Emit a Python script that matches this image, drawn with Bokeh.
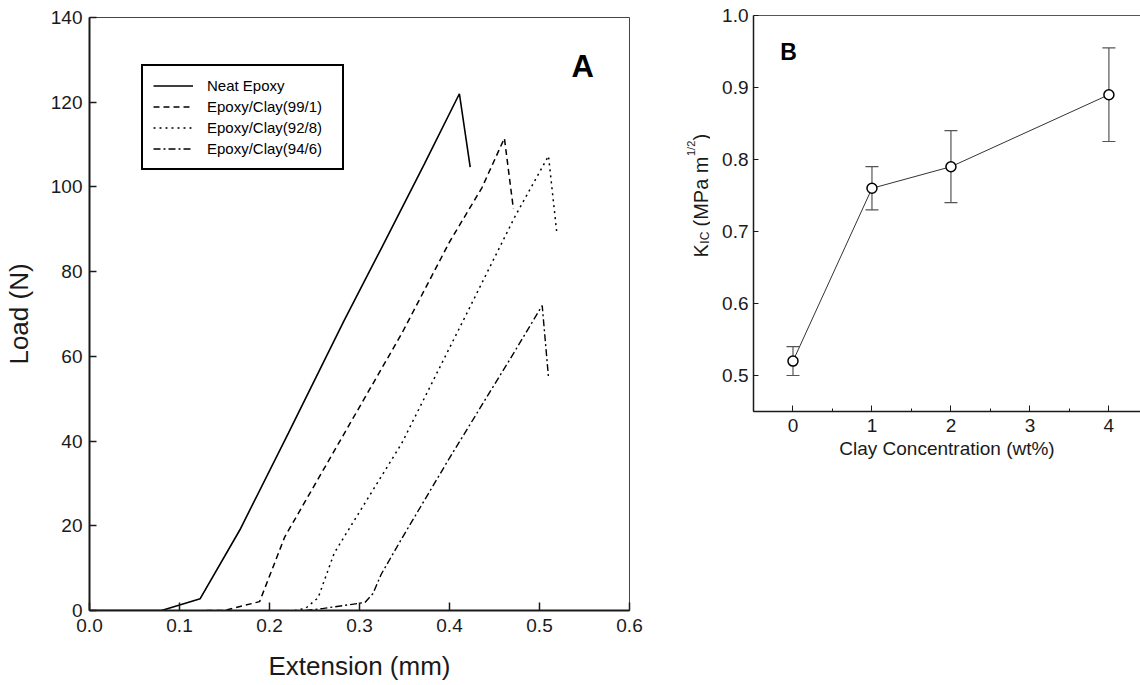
import math
from bokeh.plotting import figure
from bokeh.models import (Range1d, Legend, LegendItem, Label, ColumnDataSource,
                          Whisker, TeeHead, FixedTicker, PrintfTickFormatter, LinearAxis)
from bokeh.layouts import row
from bokeh.embed import file_html
from bokeh.resources import INLINE
from bokeh.core.properties import value

# ---------------- Panel A data: Load (N) vs Extension (mm) ----------------
neat_x = [0.0, 0.08, 0.123, 0.167, 0.221, 0.283, 0.324, 0.372, 0.411, 0.423]
neat_y = [0.0, 0.0, 2.8, 19.0, 41.9, 68.5, 85.4, 105.4, 122.0, 104.7]

c991_x = [0.13, 0.15, 0.189, 0.217, 0.347, 0.40, 0.436, 0.461, 0.471]
c991_y = [0.0, 0.0, 2.1, 17.4, 65.4, 87.0, 99.8, 111.5, 94.8]

c928_x = [0.228, 0.24, 0.254, 0.272, 0.347, 0.417, 0.472, 0.51, 0.519]
c928_y = [0.0, 0.5, 3.0, 13.6, 39.5, 69.2, 92.7, 107.3, 89.6]

c946_x = [0.24, 0.26, 0.306, 0.315, 0.324, 0.347, 0.40, 0.472, 0.503, 0.51]
c946_y = [0.0, 0.5, 1.9, 4.0, 8.5, 17.0, 36.0, 61.0, 72.0, 55.0]

series_labels = ["Neat Epoxy", "Epoxy/Clay(99/1)", "Epoxy/Clay(92/8)", "Epoxy/Clay(94/6)"]
x_ticks_a = [0.0, 0.1, 0.2, 0.3, 0.4, 0.5, 0.6]
y_ticks_a = [0, 20, 40, 60, 80, 100, 120, 140]

# ---------------- Panel B data: K_IC vs clay concentration ----------------
conc = [0, 1, 2, 4]
kic = [0.52, 0.76, 0.79, 0.89]
kic_low = [0.50, 0.73, 0.74, 0.825]
kic_high = [0.54, 0.79, 0.84, 0.955]
x_ticks_b = [0, 1, 2, 3, 4]
x_minor_b = [-0.5, 0.5, 1.5, 2.5, 3.5]
y_ticks_b = [0.5, 0.6, 0.7, 0.8, 0.9, 1.0]
ylabel_b_parts = ["K", "IC", "(MPa m", "1/2", ")"]

FONT = "Liberation Sans"
INK = "#1a1a1a"
H = 685


def style_axes(p, tick_font, label_font):
    for ax in p.xaxis + p.yaxis:
        ax.major_label_text_font = FONT
        ax.major_label_text_font_size = tick_font
        ax.major_label_text_color = INK
        ax.axis_label_text_font = FONT
        ax.axis_label_text_font_size = label_font
        ax.axis_label_text_font_style = "normal"
        ax.axis_label_text_color = INK
        ax.axis_line_color = INK
        ax.major_tick_line_color = INK
        ax.minor_tick_line_color = INK
        ax.major_tick_out = 0
        ax.minor_tick_out = 0
    p.grid.visible = False


# ================= Panel A =================
pA = figure(width=660, height=H, x_range=Range1d(0, 0.6), y_range=Range1d(0, 140),
            output_backend="svg", toolbar_location=None,
            min_border_left=88, min_border_right=31, min_border_top=17, min_border_bottom=75)
pA.frame_align = False
pA.outline_line_color = "#444444"
pA.outline_line_width = 1

r1 = pA.line(neat_x, neat_y, line_color="black", line_width=1.6)
r2 = pA.line(c991_x, c991_y, line_color="black", line_width=1.5, line_dash="6 4")
r3 = pA.line(c928_x, c928_y, line_color="black", line_width=1.5, line_dash="2 4")
r4 = pA.line(c946_x, c946_y, line_color="black", line_width=1.4, line_dash="7 3 2 3")

style_axes(pA, "19px", "26px")
pA.xaxis.ticker = FixedTicker(ticks=x_ticks_a, minor_ticks=[])
pA.yaxis.ticker = FixedTicker(ticks=y_ticks_a, minor_ticks=[])
pA.xaxis.formatter = PrintfTickFormatter(format="%.1f")
pA.xaxis.axis_label = "Extension (mm)"
pA.yaxis.axis_label = "Load (N)"
pA.xaxis.major_tick_in = 8
pA.yaxis.major_tick_in = 7
pA.xaxis.axis_line_width = 2
pA.yaxis.axis_line_width = 2
pA.xaxis.major_tick_line_width = 1.5
pA.yaxis.major_tick_line_width = 1.5
pA.xaxis.major_label_standoff = 8
pA.yaxis.major_label_standoff = 7
pA.xaxis.axis_label_standoff = 16
pA.yaxis.axis_label_standoff = 14

legend = Legend(items=[LegendItem(label=series_labels[0], renderers=[r1]),
                       LegendItem(label=series_labels[1], renderers=[r2]),
                       LegendItem(label=series_labels[2], renderers=[r3]),
                       LegendItem(label=series_labels[3], renderers=[r4])],
                location=(52, 440), orientation="vertical",
                border_line_color="black", border_line_width=2, border_line_alpha=1.0,
                background_fill_color="white", background_fill_alpha=1,
                label_text_font=FONT, label_text_font_size="15px", label_text_color="black",
                glyph_width=40, glyph_height=19, label_height=19, label_width=125,
                spacing=2, padding=10, margin=0, label_standoff=14)
pA.add_layout(legend)

pA.add_layout(Label(x=0.548, y=128.4, text="A", text_font=FONT, text_font_size="31px",
                    text_font_style="bold", text_align="center", text_baseline="middle",
                    text_color="black"))

# ============ strip holding the rotated y-axis title of panel B ============
pL = figure(width=50, height=H, x_range=Range1d(660, 710), y_range=Range1d(0, H),
            output_backend="svg", toolbar_location=None, x_axis_type=None, y_axis_type=None,
            min_border_left=0, min_border_right=0, min_border_top=0, min_border_bottom=0)
pL.frame_align = False
pL.outline_line_color = None
pL.grid.visible = False
lab_src = ColumnDataSource(dict(
    x=[700, 704, 700, 690, 700],
    y=[H - 257.0, H - 243.2, H - 226.0, H - 155.5, H - 140.0],
    text=ylabel_b_parts,
    size=["20px", "12px", "20px", "11px", "20px"]))
pL.text(x="x", y="y", text="text", source=lab_src, angle=math.pi / 2,
        text_font=value(FONT), text_font_size="size", text_align="left",
        text_baseline="alphabetic", text_color=INK)

# ================= Panel B =================
pB = figure(width=430, height=H, x_range=Range1d(-0.5, 4.4), y_range=Range1d(0.45, 1.0),
            output_backend="svg", toolbar_location=None,
            min_border_left=43, min_border_right=0, min_border_top=15, min_border_bottom=274)
pB.frame_align = False
pB.outline_line_color = None

src = ColumnDataSource(dict(conc=conc, kic=kic, low=kic_low, high=kic_high))
pB.add_layout(Whisker(source=src, base="conc", upper="high", lower="low",
                      line_color="#555555", line_width=1.2,
                      upper_head=TeeHead(size=13, line_color="#555555", line_width=1.2),
                      lower_head=TeeHead(size=13, line_color="#555555", line_width=1.2)))
pB.line("conc", "kic", source=src, line_color="#333333", line_width=1)
pB.scatter("conc", "kic", source=src, marker="circle", size=10, fill_color="white",
           line_color="black", line_width=1.5)

style_axes(pB, "19px", "19px")
pB.xaxis.ticker = FixedTicker(ticks=x_ticks_b, minor_ticks=x_minor_b)
pB.yaxis.ticker = FixedTicker(ticks=y_ticks_b, minor_ticks=[])
pB.yaxis.formatter = PrintfTickFormatter(format="%.1f")
pB.xaxis.axis_label = "Clay Concentration (wt%)"
pB.xaxis.major_tick_in = 6
pB.xaxis.minor_tick_in = 3
pB.yaxis.major_tick_in = 5
pB.yaxis.minor_tick_in = 0
pB.xaxis.axis_line_width = 1.5
pB.yaxis.axis_line_width = 1.5
pB.xaxis.major_label_standoff = 7
pB.yaxis.major_label_standoff = 5
pB.xaxis.axis_label_standoff = 3

top_line = LinearAxis(ticker=FixedTicker(ticks=[]), major_label_text_font_size="0px",
                      axis_line_color="#555555", axis_line_width=1,
                      major_tick_line_color=None, minor_tick_line_color=None)
pB.add_layout(top_line, "above")

pB.add_layout(Label(x=-0.057, y=0.95, text="B", text_font=FONT, text_font_size="23px",
                    text_font_style="bold", text_align="center", text_baseline="middle",
                    text_color="black"))

layout = row(pA, pL, pB, spacing=0)
open("out.html", "w").write(file_html(layout, INLINE))
